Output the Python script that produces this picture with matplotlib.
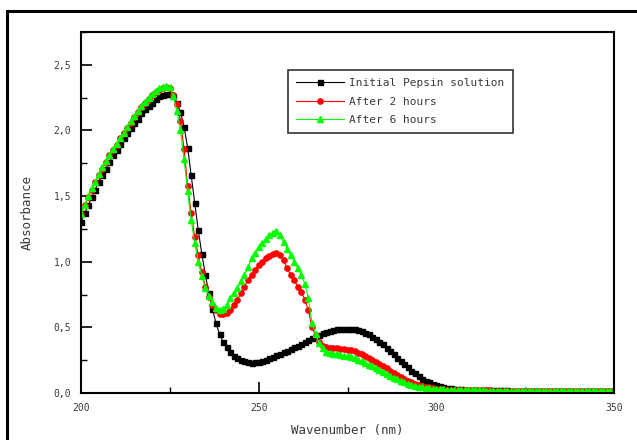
import matplotlib
matplotlib.use("Agg")
import matplotlib.pyplot as plt
from matplotlib.patches import Rectangle
from matplotlib.ticker import FuncFormatter, MultipleLocator

wavelength = list(range(200, 351))

initial = [
    1.30, 1.37, 1.43, 1.49, 1.55, 1.61, 1.66, 1.71, 1.76, 1.81,
    1.85, 1.90, 1.94, 1.98, 2.02, 2.06, 2.09, 2.13, 2.16, 2.19,
    2.21, 2.24, 2.26, 2.27, 2.28, 2.28, 2.26, 2.21, 2.14, 2.03,
    1.87, 1.66, 1.45, 1.24, 1.06, 0.90, 0.76, 0.64, 0.53, 0.45,
    0.39, 0.35, 0.31, 0.28, 0.265, 0.25, 0.24, 0.235, 0.232, 0.233,
    0.237, 0.245, 0.255, 0.265, 0.277, 0.288, 0.30, 0.31, 0.32, 0.335,
    0.35, 0.36, 0.375, 0.39, 0.405, 0.42, 0.432, 0.445, 0.455, 0.465,
    0.473, 0.48, 0.485, 0.488, 0.49, 0.49, 0.488, 0.485, 0.478, 0.47,
    0.46, 0.447, 0.43, 0.41, 0.39, 0.37, 0.345, 0.32, 0.295, 0.27,
    0.245, 0.22, 0.195, 0.17, 0.15, 0.13, 0.11, 0.095, 0.082, 0.07,
    0.06, 0.052, 0.045, 0.04, 0.036, 0.033, 0.03, 0.028, 0.026, 0.025,
    0.024, 0.024, 0.023, 0.023, 0.022, 0.022, 0.021, 0.021, 0.020, 0.020,
    0.020, 0.019, 0.019, 0.019, 0.018, 0.018, 0.018, 0.017, 0.017, 0.017,
    0.017, 0.016, 0.016, 0.016, 0.016, 0.015, 0.015, 0.015, 0.015, 0.015,
    0.014, 0.014, 0.014, 0.014, 0.014, 0.013, 0.013, 0.013, 0.013, 0.013,
    0.013,
]

after_2h = [
    1.36, 1.43, 1.49, 1.55, 1.61, 1.66, 1.71, 1.76, 1.81, 1.85,
    1.89, 1.94, 1.98, 2.02, 2.06, 2.10, 2.14, 2.18, 2.21, 2.24,
    2.27, 2.29, 2.31, 2.32, 2.33, 2.32, 2.27, 2.20, 2.07, 1.86,
    1.58, 1.37, 1.19, 1.05, 0.92, 0.81, 0.73, 0.67, 0.63, 0.605,
    0.60, 0.61, 0.635, 0.67, 0.71, 0.76, 0.81, 0.86, 0.90, 0.94,
    0.975, 1.00, 1.025, 1.045, 1.06, 1.07, 1.055, 1.01, 0.95, 0.90,
    0.86, 0.81, 0.77, 0.71, 0.63, 0.50, 0.44, 0.39, 0.36, 0.35,
    0.345, 0.342, 0.34, 0.338, 0.335, 0.33, 0.325, 0.317, 0.307, 0.295,
    0.282, 0.268, 0.253, 0.238, 0.222, 0.205, 0.188, 0.17, 0.153, 0.137,
    0.122, 0.108, 0.095, 0.083, 0.072, 0.063, 0.055, 0.048, 0.042, 0.037,
    0.033, 0.030, 0.028, 0.026, 0.025, 0.024, 0.023, 0.023, 0.022, 0.022,
    0.021, 0.021, 0.021, 0.020, 0.020, 0.020, 0.019, 0.019, 0.019, 0.019,
    0.018, 0.018, 0.018, 0.018, 0.017, 0.017, 0.017, 0.017, 0.016, 0.016,
    0.016, 0.016, 0.016, 0.015, 0.015, 0.015, 0.015, 0.015, 0.014, 0.014,
    0.014, 0.014, 0.014, 0.014, 0.013, 0.013, 0.013, 0.013, 0.013, 0.013,
    0.013,
]

after_6h = [
    1.36, 1.43, 1.50, 1.56, 1.61, 1.67, 1.72, 1.77, 1.81, 1.86,
    1.90, 1.94, 1.98, 2.03, 2.07, 2.11, 2.15, 2.19, 2.22, 2.25,
    2.28, 2.30, 2.32, 2.33, 2.34, 2.33, 2.26, 2.15, 2.00, 1.78,
    1.54, 1.32, 1.14, 1.00, 0.89, 0.80, 0.74, 0.69, 0.65, 0.635,
    0.64, 0.67, 0.72, 0.76, 0.80, 0.85, 0.90, 0.96, 1.03, 1.07,
    1.11, 1.14, 1.17, 1.20, 1.22, 1.235, 1.20, 1.15, 1.10, 1.05,
    1.00, 0.95, 0.90, 0.83, 0.72, 0.53, 0.45, 0.38, 0.34, 0.315,
    0.305, 0.30, 0.295, 0.29, 0.285, 0.28, 0.272, 0.263, 0.253, 0.242,
    0.23, 0.217, 0.203, 0.19, 0.175, 0.16, 0.145, 0.13, 0.117, 0.104,
    0.092, 0.081, 0.071, 0.062, 0.055, 0.049, 0.044, 0.04, 0.036, 0.033,
    0.031, 0.029, 0.027, 0.026, 0.025, 0.024, 0.023, 0.022, 0.022, 0.021,
    0.021, 0.020, 0.020, 0.020, 0.019, 0.019, 0.019, 0.018, 0.018, 0.018,
    0.018, 0.017, 0.017, 0.017, 0.017, 0.016, 0.016, 0.016, 0.016, 0.015,
    0.015, 0.015, 0.015, 0.015, 0.014, 0.014, 0.014, 0.014, 0.014, 0.013,
    0.013, 0.013, 0.013, 0.013, 0.013, 0.012, 0.012, 0.012, 0.012, 0.012,
    0.012,
]

labels = ["Initial Pepsin solution", "After 2 hours", "After 6 hours"]

W, H = 637, 440
fig = plt.figure(figsize=(W / 100, H / 100), dpi=100)
fig.patches.append(Rectangle((7 / W, -0.2), 1.2, (H - 11) / H + 0.2, transform=fig.transFigure,
                             fill=False, edgecolor="black", linewidth=2.2, clip_on=False))

ax = fig.add_axes([81 / W, 1 - 393 / H, (614 - 81) / W, (393 - 32) / H])

font = "DejaVu Sans Mono"
tcol = "#3a3a3a"

ax.plot(wavelength, initial, color="black", lw=0.8, marker="s", ms=3.6,
        mec="black", mfc="black", label=labels[0])
ax.plot(wavelength, after_2h, color="red", lw=0.8, marker="o", ms=3.8,
        mec="red", mfc="red", label=labels[1])
ax.plot(wavelength, after_6h, color="#00ff00", lw=0.8, marker="^", ms=4.0,
        mec="#00ff00", mfc="#00ff00", label=labels[2])

ax.set_xlim(200, 350)
ax.set_ylim(0, 2.75)
ax.xaxis.set_major_locator(MultipleLocator(50))
ax.xaxis.set_minor_locator(MultipleLocator(25))
ax.yaxis.set_major_locator(MultipleLocator(0.5))
ax.yaxis.set_minor_locator(MultipleLocator(0.25))
ax.yaxis.set_major_formatter(FuncFormatter(lambda v, p: f"{v:.1f}".replace(".", ",")))
ax.tick_params(which="major", direction="in", length=8, width=1.2,
               top=False, right=False, labelsize=7, labelcolor=tcol, pad=7)
ax.tick_params(which="minor", direction="in", length=4, width=1.0, top=False, right=False)
for lab in ax.get_xticklabels() + ax.get_yticklabels():
    lab.set_family(font)
for s in ax.spines.values():
    s.set_linewidth(1.5)

ax.set_xlabel("Wavenumber (nm)", family=font, fontsize=9, color=tcol, labelpad=8)
ax.set_ylabel("Absorbance", family=font, fontsize=9, color=tcol, labelpad=14)

leg = ax.legend(loc="upper left", bbox_to_anchor=((288 - 81) / (614 - 81), (393 - 70) / (393 - 32)),
                prop={"family": font, "size": 8}, frameon=True, fancybox=False,
                edgecolor="black", handlelength=4.3, handletextpad=0.45, borderpad=0.75,
                labelspacing=0.75, borderaxespad=0, markerscale=1.0)
leg.get_frame().set_linewidth(1.2)
for t in leg.get_texts():
    t.set_color(tcol)

fig.savefig("out.png", dpi=100)
